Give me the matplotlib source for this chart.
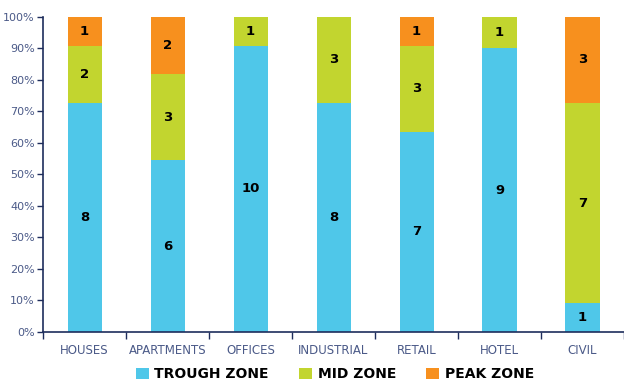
import numpy as np
import matplotlib
matplotlib.use("Agg")
import matplotlib.pyplot as plt
from matplotlib.patches import Patch

# data
categories = ["HOUSES", "APARTMENTS", "OFFICES", "INDUSTRIAL", "RETAIL", "HOTEL", "CIVIL"]
trough = [8, 6, 10, 8, 7, 9, 1]
mid = [2, 3, 1, 3, 3, 1, 7]
peak = [1, 2, 0, 0, 1, 0, 3]
series_names = ["TROUGH ZONE", "MID ZONE", "PEAK ZONE"]
colors = ["#4FC7E9", "#C2D52F", "#F7901E"]

axis_col = "#1E2D5C"
tick_col = "#4B5A88"

plt.rcParams['font.family'] = ['DejaVu Sans']

fig = plt.figure(figsize=(6.24, 3.82), dpi=100)
ax = fig.add_axes([0.069, 0.131, 0.931, 0.8245])

x = np.arange(len(categories))
data = np.array([trough, mid, peak], dtype=float)
totals = data.sum(axis=0)
pct = data / totals * 100

bottom = np.zeros(len(categories))
for k in range(3):
    ax.bar(x, pct[k], 0.41, bottom=bottom, color=colors[k], linewidth=0, zorder=2)
    for i in range(len(categories)):
        if data[k][i] > 0:
            ax.text(x[i], bottom[i] + pct[k][i] / 2, str(int(data[k][i])),
                    ha='center', va='center', fontsize=9.5, fontweight='bold', color='black')
    bottom += pct[k]

ax.set_xlim(-0.5, len(categories) - 0.5)
ax.set_ylim(0, 100)
ax.set_yticks(np.arange(0, 101, 10))
ax.set_yticklabels([f"{v}%" for v in range(0, 101, 10)])

ax.set_xticks(x)
ax.set_xticklabels(categories)
ax.set_xticks(np.arange(-0.5, len(categories), 1.0), minor=True)
ax.tick_params(axis='x', which='major', length=0, pad=9, labelsize=8.5, labelcolor=tick_col)
ax.tick_params(axis='x', which='minor', length=5, color=axis_col, width=1)
ax.tick_params(axis='y', length=4, color=axis_col, width=1, labelsize=8, labelcolor=tick_col, pad=2)

for s in ['top', 'right']:
    ax.spines[s].set_visible(False)
for s in ['left', 'bottom']:
    ax.spines[s].set_color(axis_col)
    ax.spines[s].set_linewidth(1.2)

handles = [Patch(facecolor=c, edgecolor='none') for c in colors]
leg = fig.legend(handles, series_names, loc='center', bbox_to_anchor=(0.537, 0.02),
                 ncol=3, frameon=False, handlelength=0.9, handleheight=0.9,
                 columnspacing=2.2, handletextpad=0.4,
                 prop={'weight': 'bold', 'size': 10})

fig.savefig("out.png", dpi=100)
